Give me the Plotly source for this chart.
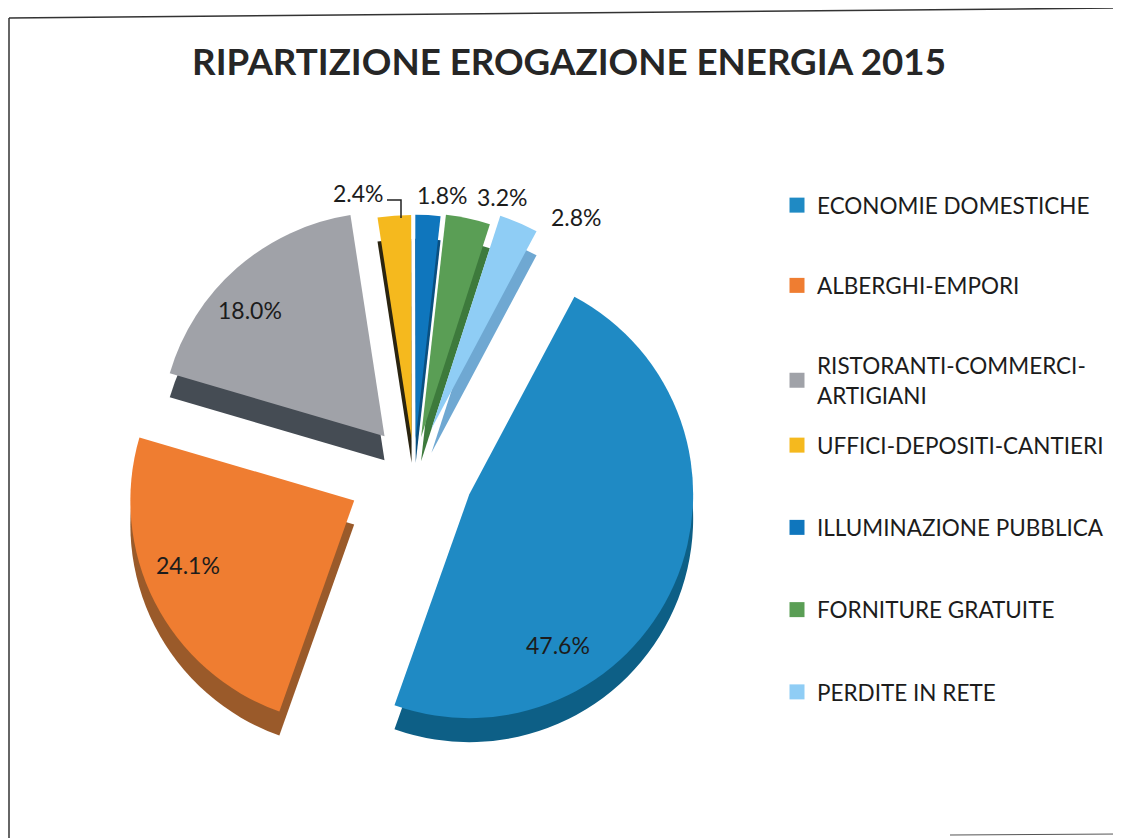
import plotly.graph_objects as go

# The page keeps an 8 px body margin, so the figure fills the rest of the window
OFFSET = 8
W, H = 1121 - OFFSET, 838 - OFFSET
FONT = "Lato"
INK = "#1c1c1c"

categories = ["ECONOMIE DOMESTICHE", "ALBERGHI-EMPORI", "RISTORANTI-COMMERCI-<br>ARTIGIANI",
              "UFFICI-DEPOSITI-CANTIERI", "ILLUMINAZIONE PUBBLICA", "FORNITURE GRATUITE", "PERDITE IN RETE"]
values = [47.6, 24.1, 18.0, 2.4, 1.8, 3.2, 2.8]
colors = ["#1f8ac4", "#ef7d31", "#a0a2a8", "#f5b91e", "#0f76bd", "#5a9e55", "#8fcdf5"]
side_colors = ["#0d5f86", "#9a5a2a", "#454c54", "#2a2410", "#0a4f80", "#3d7a3c", "#6fa8d2"]
pulls = [0.27, 0.30, 0.2, 0.14, 0.14, 0.15, 0.2]


def fx(p):
    return (p - OFFSET) / W


def fy(p):
    return 1 - (p - OFFSET) / H


CX, CY, HALF, DEPTH = 414, 470, 291, 24


def pie(cols, dy):
    return go.Pie(
        labels=categories, values=values, sort=False, direction="clockwise", rotation=28,
        pull=pulls, marker=dict(colors=cols, line=dict(width=0)), textinfo="none",
        hoverinfo="label+percent", showlegend=False,
        domain=dict(x=[fx(CX - HALF), fx(CX + HALF)], y=[fy(CY + dy + HALF), fy(CY + dy - HALF)]),
    )


fig = go.Figure([pie(side_colors, DEPTH), pie(colors, 0)])

legend_font = dict(family=FONT, size=22.5, color=INK)
for i, (name, col) in enumerate(zip(categories, colors)):
    fig.add_trace(go.Scatter(
        x=[None], y=[None], mode="markers", name=name,
        marker=dict(symbol="square", size=15, color=col),
        legend="legend" if i < 3 else "legend2",
        legendgroup=str(i),
    ))

leg = dict(bgcolor="rgba(0,0,0,0)", font=legend_font, itemwidth=30,
           xanchor="left", yanchor="top", itemclick=False, itemdoubleclick=False)

label_pos = [(558, 645), (188, 565), (250, 310), (358, 193), (442, 195), (502, 197), (576, 217)]
annotations = [
    dict(x=fx(px), y=fy(py), xref="paper", yref="paper", showarrow=False, text=f"{v:.1f}%",
         font=dict(family=FONT, size=23, color=INK), xanchor="center", yanchor="middle")
    for v, (px, py) in zip(values, label_pos)
]

fig.update_layout(
    width=W, height=H, autosize=False, margin=dict(l=0, r=0, t=0, b=0),
    paper_bgcolor="white", plot_bgcolor="white",
    title=dict(text="<b>RIPARTIZIONE EROGAZIONE ENERGIA 2015</b>", x=fx(569), xanchor="center",
               y=fy(62), yanchor="middle", font=dict(family=FONT, size=36.7, color="#262626")),
    xaxis=dict(visible=False), yaxis=dict(visible=False),
    legend=dict(x=fx(777), y=fy(184), tracegroupgap=48, **leg),
    legend2=dict(x=fx(777), y=fy(424), tracegroupgap=50, **leg),
    annotations=annotations,
    shapes=[
        dict(type="line", xref="paper", yref="paper", x0=fx(9), y0=fy(18), x1=fx(1121), y1=fy(8),
             line=dict(color="#333333", width=1.5)),
        dict(type="line", xref="paper", yref="paper", x0=fx(9), y0=fy(18), x1=fx(9), y1=fy(838),
             line=dict(color="#333333", width=1.5)),
        dict(type="line", xref="paper", yref="paper", x0=fx(950), y0=fy(835), x1=fx(1121), y1=fy(834),
             line=dict(color="#555555", width=1)),
        dict(type="path", xref="paper", yref="paper",
             path=f"M {fx(387)} {fy(200)} L {fx(401)} {fy(200)} L {fx(401)} {fy(218)}",
             line=dict(color="#222222", width=1.5)),
    ],
)

fig.write_html("out.html")
